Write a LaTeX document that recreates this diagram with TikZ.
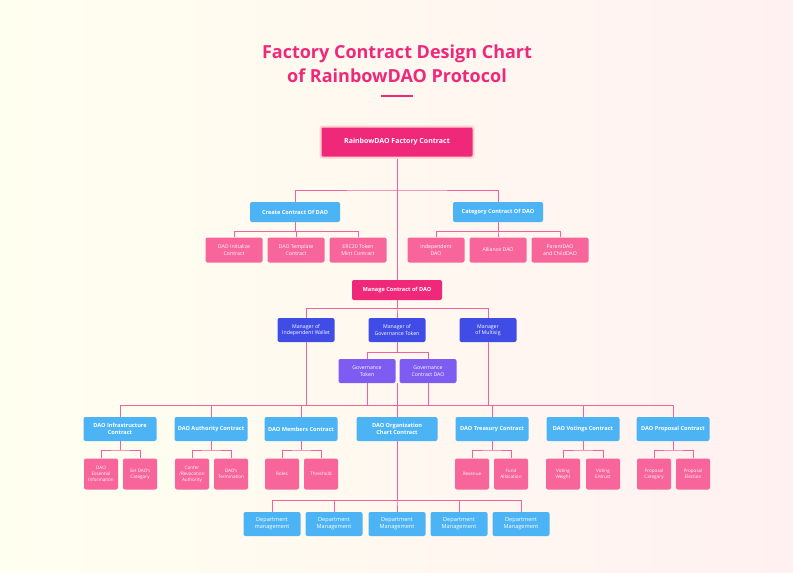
\documentclass[tikz,border=0pt]{standalone}
\usepackage{fontspec}
\setmainfont{Open Sans}
\usetikzlibrary{positioning}
\definecolor{rosered}{HTML}{F0287A}
\definecolor{rosebox}{HTML}{F7659A}
\definecolor{skyblue}{HTML}{4CB4F5}
\definecolor{royal}{HTML}{3F4CE6}
\definecolor{violet}{HTML}{7E5CF2}
\definecolor{wire}{HTML}{F2629C}
\tikzset{
  box/.style={rounded corners=2pt, align=center, text=white, inner sep=0pt, font=\fontsize{5.2}{6.4}\selectfont},
  head/.style={box, fill=skyblue, minimum width=73pt, minimum height=24pt, font=\bfseries\fontsize{5.6}{7}\selectfont},
  leaf/.style={box, fill=rosebox, minimum width=57pt, minimum height=25pt},
  tiny/.style={box, fill=rosebox, minimum width=34pt, minimum height=31pt, font=\fontsize{4.6}{5.8}\selectfont},
  mgr/.style={box, fill=royal, minimum width=57pt, minimum height=24pt},
  gov/.style={box, fill=violet, minimum width=57pt, minimum height=24pt},
  dept/.style={box, fill=skyblue, minimum width=57pt, minimum height=24pt, font=\fontsize{5.6}{7}\selectfont},
  link/.style={draw=wire, line width=0.8pt}
}
\begin{document}
\begin{tikzpicture}[x=1pt, y=-1pt]
  % background
  \shade[left color=yellow!6, right color=pink!22] (0,0) rectangle (793,573);
  \useasboundingbox (0,0) rectangle (793,573);

  % title
  \node[text=rosered, font=\bfseries\fontsize{18}{24}\selectfont, align=center] (title) at (397,64)
    {Factory Contract Design Chart\\of RainbowDAO Protocol};
  \draw[rosered, line width=2pt] (381,96) -- (413,96);

  % top levels
  \node[box, fill=rosered, draw=pink!70, line width=2pt, minimum width=153pt, minimum height=31pt,
        font=\bfseries\fontsize{7}{8.5}\selectfont] (factory) at (397,142) {RainbowDAO Factory Contract};
  \node[head, minimum width=90pt, minimum height=20pt] (create) at (295,212) {Create Contract Of DAO};
  \node[head, minimum width=90pt, minimum height=20pt] (category) at (498,212) {Category Contract Of DAO};
  \node[head, fill=rosered, minimum width=90pt, minimum height=20pt] (manage) at (397,290) {Manage Contract of DAO};

  \draw[link] (factory) -- (manage);
  \draw[link] (create.north) |- (397,190) -| (category.north);

  \foreach \i/\x/\txt in {1/234/{DAO Initialize\\Contract}, 2/296/{DAO Template\\Contract}, 3/358/{ERC20 Token\\Mint Contract}} {
    \node[leaf] (C\i) at (\x,250) {\txt};
    \draw[link] (create.south) -- (295,231) -| (C\i.north);
  }
  \foreach \i/\x/\txt in {1/436/{Independent\\DAO}, 2/498/{Alliance DAO}, 3/560/{ParentDAO\\and ChildDAO}} {
    \node[leaf] (K\i) at (\x,250) {\txt};
    \draw[link] (category.south) -- (498,231) -| (K\i.north);
  }

  % managers
  \foreach \i/\x/\txt in {1/306/{Manager of\\Independent Wallet}, 2/397/{Manager of\\Governance Token}, 3/488/{Manager\\of Multisig}} {
    \node[mgr] (M\i) at (\x,330) {\txt};
    \draw[link] (manage.south) -- (397,308) -| (M\i.north);
  }
  \node[gov] (G1) at (367,371) {Governance\\Token};
  \node[gov] (G2) at (428,371) {Governance\\Contract DAO};
  \draw[link] (M2.south) -- (397,352) -| (G1.north);
  \draw[link] (397,352) -| (G2.north);

  % contract row
  \foreach \i/\x/\txt in {1/120/{DAO Infrastructure\\Contract}, 2/211/{DAO Authority Contract}, 3/301/{DAO Members Contract},
      5/492/{DAO Treasury Contract}, 6/583/{DAO Votings Contract}, 7/673/{DAO Proposal Contract}} {
    \node[head] (D\i) at (\x,429) {\txt};
    \draw[link, line width=0.5pt] (D\i.north) -- (\x,405);
  }
  \node[head, minimum width=81pt] (D4) at (397,429) {DAO Organization\\Chart Contract};
  \draw[link, line width=0.5pt] (120,405) -- (673,405);
  \draw[link] (M1.south) -- (306,405);
  \draw[link] (M3.south) -- (488,405);
  \draw[link] (G1.south) -- (367,405);
  \draw[link] (G2.south) -- (428,405);
  \draw[link] (M2.south |- 397,383) -- (D4.north);

  % sub contracts
  \foreach \p/\a/\b/\ta/\tb in {1/101/140/{DAO\\Essential\\Information}/{Set DAO`s\\Category},
      2/192/231/{Confer\\/Revocation\\Authority}/{DAO`s\\Termination},
      3/282/321/{Roles}/{Threshold},
      5/472/511/{Revenue}/{Fund\\Allocation},
      6/563/603/{Voting\\Weight}/{Voting\\Entrust},
      7/654/693/{Proposal\\Category}/{Proposal\\Election}} {
    \node[tiny] (S\p a) at (\a,474) {\ta};
    \node[tiny] (S\p b) at (\b,474) {\tb};
    \draw[link, line width=0.5pt] (D\p.south) -- (D\p.south |- 0,450);
    \draw[link, line width=0.5pt] (S\p a.north) |- (D\p.south |- 0,450) -| (S\p b.north);
  }

  % departments
  \foreach \i/\x/\txt in {1/272/{Department\\management}, 2/334/{Department\\Management}, 3/397/{Department\\Management},
      4/459/{Department\\Management}, 5/521/{Department\\Management}} {
    \node[dept] (P\i) at (\x,524) {\txt};
    \draw[link] (D4.south) -- (397,500) -| (P\i.north);
  }
\end{tikzpicture}
\end{document}
